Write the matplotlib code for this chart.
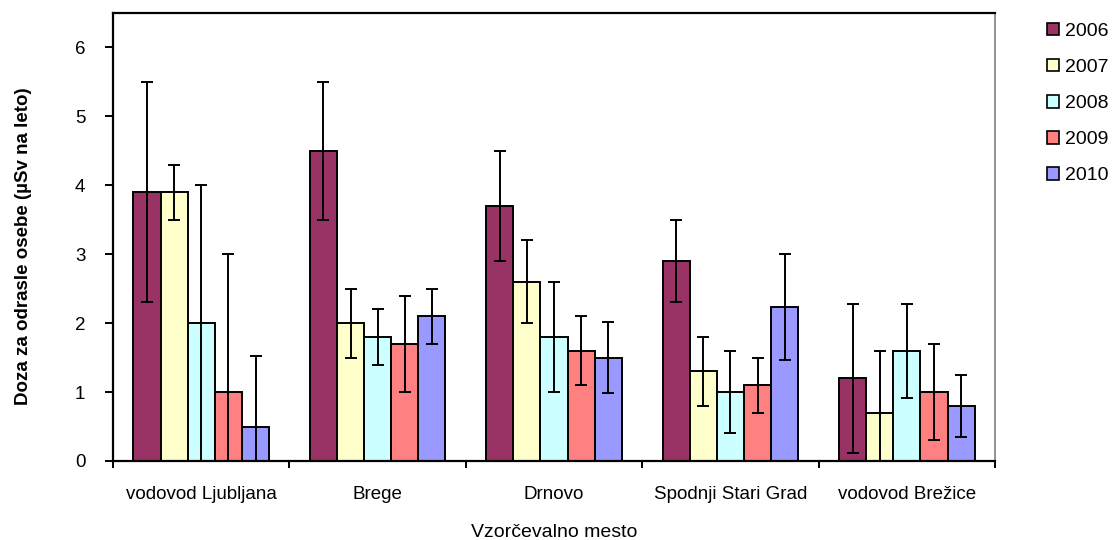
import matplotlib.pyplot as plt
import numpy as np

plt.rcParams['font.family'] = ['Liberation Sans', 'DejaVu Sans']

# === DATA: MEAN DOSE AND ERROR PER SITE AND YEAR ===
sites = ["vodovod Ljubljana", "Brege", "Drnovo", "Spodnji Stari Grad", "vodovod Brežice"]
years = ["2006", "2007", "2008", "2009", "2010"]

v2006 = [3.9, 4.5, 3.7, 2.9, 1.2]
v2007 = [3.9, 2.0, 2.6, 1.3, 0.7]
v2008 = [2.0, 1.8, 1.8, 1.0, 1.6]
v2009 = [1.0, 1.7, 1.6, 1.1, 1.0]
v2010 = [0.5, 2.1, 1.5, 2.23, 0.8]

e2006 = [1.6, 1.0, 0.8, 0.6, 1.08]
e2007 = [0.4, 0.5, 0.6, 0.5, 0.9]
e2008 = [2.0, 0.4, 0.8, 0.6, 0.68]
e2009 = [2.0, 0.7, 0.5, 0.4, 0.7]
e2010 = [1.03, 0.4, 0.52, 0.77, 0.45]

values = [v2006, v2007, v2008, v2009, v2010]
errors = [e2006, e2007, e2008, e2009, e2010]
colors = ['#993366', '#FFFFCC', '#CCFFFF', '#FF8080', '#9999FF']

# === PLOT ===
fig = plt.figure(figsize=(11.16, 5.4), dpi=100)
ax = fig.add_axes([0.1013, 0.1463, 0.7903, 0.8296])

x = np.arange(len(sites))
width = 1 / 6.5
for i, (vals, errs) in enumerate(zip(values, errors)):
    pos = x + (i - 2) * width
    ax.bar(pos, vals, width, color=colors[i], edgecolor='black', linewidth=1.4,
           label=years[i], zorder=2)
    ax.errorbar(pos, vals, yerr=errs, fmt='none', ecolor='black', elinewidth=1.4,
                capsize=4, capthick=1.4, zorder=3)

# === AXES AND STYLE ===
ax.set_xlim(-0.5, len(sites) - 0.5)
ax.set_ylim(0, 6.5)
ax.set_yticks(range(0, 7))
ax.set_xticks(x)
ax.set_xticklabels(sites, fontsize=13.5)
ax.set_xticks(np.arange(-0.5, len(sites)), minor=True)
ax.tick_params(axis='x', which='major', length=0, pad=18)
ax.tick_params(axis='x', which='minor', length=5, width=1.4, direction='out')
ax.tick_params(axis='y', length=6, width=1.4, direction='out', labelsize=13.5, pad=14)

for side in ['left', 'bottom', 'top']:
    ax.spines[side].set_linewidth(1.6)
    ax.spines[side].set_color('black')
ax.spines['right'].set_color('#808080')
ax.spines['right'].set_linewidth(1.2)

ax.set_xlabel("Vzorčevalno mesto", fontsize=14, labelpad=15)
ax.set_ylabel("Doza za odrasle osebe (µSv na leto)", fontsize=13.5, fontweight='bold')
ax.yaxis.set_label_coords(-0.092, 0.48)

leg = ax.legend(loc='upper left', bbox_to_anchor=(1.05, 0.995), frameon=False, fontsize=14,
                handlelength=0.6, handleheight=0.6, handletextpad=0.35, labelspacing=0.98,
                borderaxespad=0)
for h in leg.legend_handles:
    h.set_linewidth(1.2)

fig.savefig("out.png", dpi=100)
